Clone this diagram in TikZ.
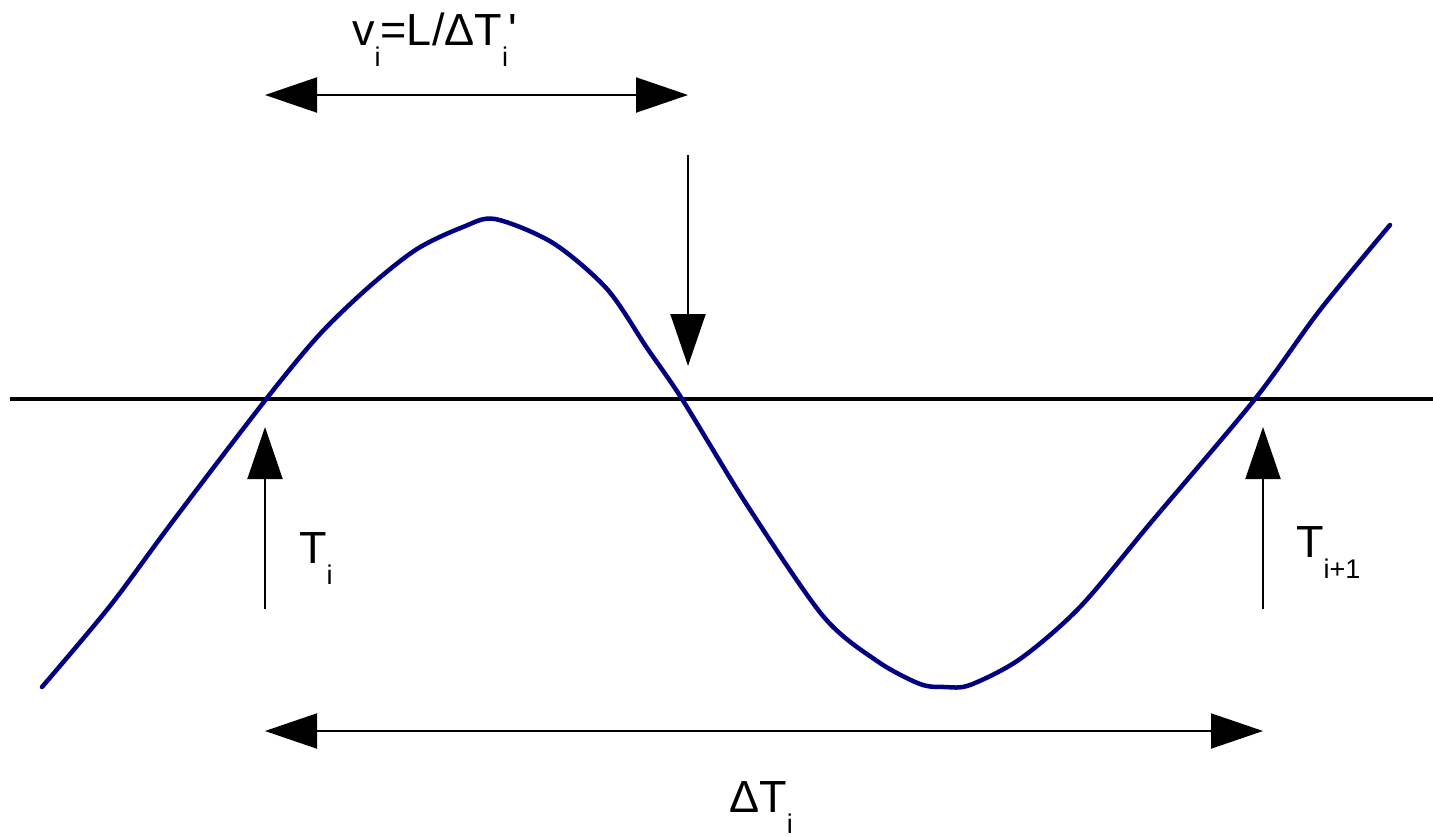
\documentclass[tikz,border=0pt]{standalone}
\usepackage{fontspec}
\newfontfamily\arialf{Liberation Sans}
\usetikzlibrary{arrows.meta}
\definecolor{wave}{RGB}{0,0,128}
\newcommand{\bigf}{\arialf\fontsize{45}{54}\selectfont}
\newcommand{\subtx}[1]{\raisebox{-21pt}{\fontsize{27}{32}\selectfont #1}}
\tikzset{
  lbl/.style={anchor=base west, inner sep=0pt, font=\bigf},
  headtip/.tip={Triangle[length=52pt,width=35pt]},
  dimarrow/.style={line width=2pt, headtip-headtip},
  markarrow/.style={line width=2pt, -headtip},
  axisline/.style={line width=4.5pt},
  waveline/.style={wave, line width=4.5pt, line join=round, line cap=round}
}
\begin{document}
\begin{tikzpicture}[x=1pt,y=-1pt]
\useasboundingbox[fill=white] (0,0) rectangle (1433,836);

% coordinates
\coordinate (axL) at (10,399);
\coordinate (axR) at (1433,399);
\coordinate (topL) at (265,95);
\coordinate (topR) at (688,95);
\coordinate (downS) at (688,155);
\coordinate (downT) at (688,366);
\coordinate (upAS) at (265,609);
\coordinate (upAT) at (265,427);
\coordinate (upBS) at (1263,609);
\coordinate (upBT) at (1263,427);
\coordinate (botL) at (265,731);
\coordinate (botR) at (1263,731);

% horizontal axis
\draw[axisline] (axL) -- (axR);

% wave
\draw[waveline] plot[smooth, tension=0.5] coordinates {
 (42,687) (110,606) (173,521) (267,398) (320,334) (370,286) (417,249)
 (463,227) (495,219) (553,243) (607,289) (647,348) (682,399) (747,505)
 (823,616) (877,661) (920,684) (945,687) (970,685) (1020,659) (1080,607)
 (1153,520) (1255,399) (1320,310) (1390,225)};

% arrows
\draw[dimarrow] (topL) -- (topR);
\draw[markarrow] (downS) -- (downT);
\draw[markarrow] (upAS) -- (upAT);
\draw[markarrow] (upBS) -- (upBT);
\draw[dimarrow] (botL) -- (botR);

% labels
\node[lbl] (vlab) at (352,45) {v\subtx{i}=L/ΔT\subtx{i}'};
\node[lbl] (tilab) at (299,563) {T\subtx{i}};
\node[lbl] (tjlab) at (1296,557) {T\subtx{i+1}};
\node[lbl] (dtlab) at (729,812) {ΔT\subtx{i}};
\end{tikzpicture}
\end{document}
